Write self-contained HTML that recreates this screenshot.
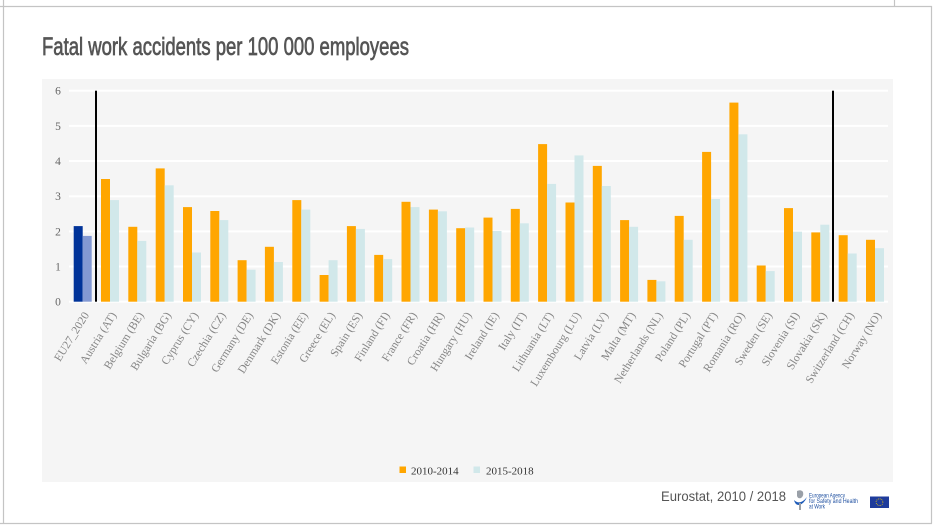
<!DOCTYPE html>
<html><head><meta charset="utf-8">
<style>
html,body{margin:0;padding:0;background:#fff;}
svg{display:block;}
</style></head>
<body>
<svg width="939" height="528" viewBox="0 0 939 528" xmlns="http://www.w3.org/2000/svg">
<rect x="0" y="0" width="939" height="528" fill="#fff"/>
<!-- frame -->
<line x1="0" y1="6.5" x2="932" y2="6.5" stroke="#c4c4c4" stroke-width="1.2"/>
<line x1="3.5" y1="0" x2="3.5" y2="523.5" stroke="#c4c4c4" stroke-width="1.2"/>
<line x1="931.5" y1="6" x2="931.5" y2="523.5" stroke="#c4c4c4" stroke-width="1.2"/>
<line x1="0" y1="523.5" x2="932" y2="523.5" stroke="#c4c4c4" stroke-width="1.2"/>
<line x1="894.5" y1="0" x2="894.5" y2="6" stroke="#c4c4c4" stroke-width="1.2"/>

<!-- title -->
<text x="42" y="55" font-family="Liberation Sans, sans-serif" font-size="25" fill="#555" stroke="#555" stroke-width="0.7" textLength="367" lengthAdjust="spacingAndGlyphs">Fatal work accidents per 100 000 employees</text>

<!-- panel -->
<rect x="42" y="79" width="851" height="403" fill="#f5f5f5"/>

<!-- gridlines -->
<g stroke="#ffffff" stroke-width="2">
<line x1="69" y1="90.7" x2="888" y2="90.7"/>
<line x1="69" y1="125.9" x2="888" y2="125.9"/>
<line x1="69" y1="161.0" x2="888" y2="161.0"/>
<line x1="69" y1="196.2" x2="888" y2="196.2"/>
<line x1="69" y1="231.4" x2="888" y2="231.4"/>
<line x1="69" y1="266.5" x2="888" y2="266.5"/>
<line x1="69" y1="301.7" x2="888" y2="301.7"/>
</g>

<!-- y labels -->
<g font-family="Liberation Serif, serif" font-size="11.5" fill="#666" text-anchor="middle">
<text x="58" y="94.7">6</text>
<text x="58" y="129.9">5</text>
<text x="58" y="165">4</text>
<text x="58" y="200.2">3</text>
<text x="58" y="235.4">2</text>
<text x="58" y="270.5">1</text>
<text x="58" y="305.7">0</text>
</g>

<!-- bars -->
<rect x="73.7" y="226.1" width="9" height="75.6" fill="#003399"/>
<rect x="82.7" y="235.9" width="9" height="65.8" fill="#8399d3"/>
<g fill="#ffa600">
<rect x="101.0" y="179.0" width="9" height="122.7"/>
<rect x="128.3" y="226.8" width="9" height="74.9"/>
<rect x="155.7" y="168.4" width="9" height="133.3"/>
<rect x="183.0" y="207.1" width="9" height="94.6"/>
<rect x="210.3" y="211.0" width="9" height="90.7"/>
<rect x="237.6" y="260.2" width="9" height="41.5"/>
<rect x="264.9" y="246.8" width="9" height="54.9"/>
<rect x="292.3" y="200.1" width="9" height="101.6"/>
<rect x="319.6" y="275.0" width="9" height="26.7"/>
<rect x="346.9" y="226.1" width="9" height="75.6"/>
<rect x="374.2" y="254.9" width="9" height="46.8"/>
<rect x="401.5" y="201.8" width="9" height="99.9"/>
<rect x="428.9" y="209.6" width="9" height="92.1"/>
<rect x="456.2" y="228.2" width="9" height="73.5"/>
<rect x="483.5" y="217.6" width="9" height="84.1"/>
<rect x="510.8" y="208.9" width="9" height="92.8"/>
<rect x="538.1" y="144.1" width="9" height="157.6"/>
<rect x="565.5" y="202.5" width="9" height="99.2"/>
<rect x="592.8" y="165.9" width="9" height="135.8"/>
<rect x="620.1" y="220.1" width="9" height="81.6"/>
<rect x="647.4" y="279.9" width="9" height="21.8"/>
<rect x="674.7" y="215.9" width="9" height="85.8"/>
<rect x="702.1" y="151.9" width="9" height="149.8"/>
<rect x="729.4" y="102.6" width="9" height="199.1"/>
<rect x="756.7" y="265.5" width="9" height="36.2"/>
<rect x="784.0" y="208.1" width="9" height="93.6"/>
<rect x="811.3" y="232.4" width="9" height="69.3"/>
<rect x="838.7" y="235.2" width="9" height="66.5"/>
<rect x="866.0" y="239.8" width="9" height="61.9"/>
</g>
<g fill="#d1e8ea">
<rect x="110.0" y="200.1" width="9" height="101.6"/>
<rect x="137.3" y="240.9" width="9" height="60.8"/>
<rect x="164.7" y="185.3" width="9" height="116.4"/>
<rect x="192.0" y="252.5" width="9" height="49.2"/>
<rect x="219.3" y="220.1" width="9" height="81.6"/>
<rect x="246.6" y="269.7" width="9" height="32.0"/>
<rect x="273.9" y="262.0" width="9" height="39.7"/>
<rect x="301.3" y="209.6" width="9" height="92.1"/>
<rect x="328.6" y="260.2" width="9" height="41.5"/>
<rect x="355.9" y="228.9" width="9" height="72.8"/>
<rect x="383.2" y="259.1" width="9" height="42.6"/>
<rect x="410.5" y="207.1" width="9" height="94.6"/>
<rect x="437.9" y="211.3" width="9" height="90.4"/>
<rect x="465.2" y="227.5" width="9" height="74.2"/>
<rect x="492.5" y="231.0" width="9" height="70.7"/>
<rect x="519.8" y="223.3" width="9" height="78.4"/>
<rect x="547.1" y="183.9" width="9" height="117.8"/>
<rect x="574.5" y="155.4" width="9" height="146.3"/>
<rect x="601.8" y="186.0" width="9" height="115.7"/>
<rect x="629.1" y="226.8" width="9" height="74.9"/>
<rect x="656.4" y="281.3" width="9" height="20.4"/>
<rect x="683.7" y="239.8" width="9" height="61.9"/>
<rect x="711.1" y="199.0" width="9" height="102.7"/>
<rect x="738.4" y="134.3" width="9" height="167.4"/>
<rect x="765.7" y="271.1" width="9" height="30.6"/>
<rect x="793.0" y="231.7" width="9" height="70.0"/>
<rect x="820.3" y="224.7" width="9" height="77.0"/>
<rect x="847.7" y="253.5" width="9" height="48.2"/>
<rect x="875.0" y="248.2" width="9" height="53.5"/>
</g>

<!-- separators -->
<rect x="95" y="90.7" width="2" height="211" fill="#000"/>
<rect x="832" y="90.7" width="2" height="211" fill="#000"/>

<!-- x labels -->
<g font-family="Liberation Serif, serif" font-size="11.5" fill="#858585" text-anchor="end">
<text transform="translate(89.5,315) rotate(-58)">EU27_2020</text>
<text transform="translate(116.8,315) rotate(-58)">Austria (AT)</text>
<text transform="translate(144.1,315) rotate(-58)">Belgium (BE)</text>
<text transform="translate(171.5,315) rotate(-58)">Bulgaria (BG)</text>
<text transform="translate(198.8,315) rotate(-58)">Cyprus (CY)</text>
<text transform="translate(226.1,315) rotate(-58)">Czechia (CZ)</text>
<text transform="translate(253.4,315) rotate(-58)">Germany (DE)</text>
<text transform="translate(280.7,315) rotate(-58)">Denmark (DK)</text>
<text transform="translate(308.1,315) rotate(-58)">Estonia (EE)</text>
<text transform="translate(335.4,315) rotate(-58)">Greece (EL)</text>
<text transform="translate(362.7,315) rotate(-58)">Spain (ES)</text>
<text transform="translate(390.0,315) rotate(-58)">Finland (FI)</text>
<text transform="translate(417.3,315) rotate(-58)">France (FR)</text>
<text transform="translate(444.7,315) rotate(-58)">Croatia (HR)</text>
<text transform="translate(472.0,315) rotate(-58)">Hungary (HU)</text>
<text transform="translate(499.3,315) rotate(-58)">Ireland (IE)</text>
<text transform="translate(526.6,315) rotate(-58)">Italy (IT)</text>
<text transform="translate(553.9,315) rotate(-58)">Lithuania (LT)</text>
<text transform="translate(581.3,315) rotate(-58)">Luxembourg (LU)</text>
<text transform="translate(608.6,315) rotate(-58)">Latvia (LV)</text>
<text transform="translate(635.9,315) rotate(-58)">Malta (MT)</text>
<text transform="translate(663.2,315) rotate(-58)">Netherlands (NL)</text>
<text transform="translate(690.5,315) rotate(-58)">Poland (PL)</text>
<text transform="translate(717.9,315) rotate(-58)">Portugal (PT)</text>
<text transform="translate(745.2,315) rotate(-58)">Romania (RO)</text>
<text transform="translate(772.5,315) rotate(-58)">Sweden (SE)</text>
<text transform="translate(799.8,315) rotate(-58)">Slovenia (SI)</text>
<text transform="translate(827.1,315) rotate(-58)">Slovakia (SK)</text>
<text transform="translate(854.5,315) rotate(-58)">Switzerland (CH)</text>
<text transform="translate(881.8,315) rotate(-58)">Norway (NO)</text>
</g>

<!-- legend -->
<rect x="399.5" y="466.5" width="6.5" height="6.5" fill="#ffa600"/>
<text x="411" y="474.5" font-family="Liberation Serif, serif" font-size="11" fill="#333">2010-2014</text>
<rect x="473.5" y="466.5" width="6.5" height="6.5" fill="#d1e8ea"/>
<text x="486" y="474.5" font-family="Liberation Serif, serif" font-size="11" fill="#333">2015-2018</text>

<!-- footer -->
<text x="661" y="501" font-family="Liberation Sans, sans-serif" font-size="14" fill="#555" textLength="125" lengthAdjust="spacingAndGlyphs">Eurostat, 2010 / 2018</text>

<!-- EU-OSHA logo -->
<g>
<path d="M797 491 q4 -2 6 1 q1 4 -2 6 q-3 1 -4 -2 z" fill="#9aa0a8"/>
<path d="M794 500 q6 6 13 -3 q-3 7 -8 8 q-4 0 -5 -5 z" fill="#1e5bb8"/>
<path d="M799 503 l0 7 l2 0 l0 -7 z" fill="#9aa0a8"/>
<g font-family="Liberation Sans, sans-serif" font-size="6" fill="#1e4fa0">
<text x="809" y="497.5" textLength="36" lengthAdjust="spacingAndGlyphs">European Agency</text>
<text x="809" y="503" textLength="49" lengthAdjust="spacingAndGlyphs">for Safety and Health</text>
<text x="809" y="508.5" textLength="16" lengthAdjust="spacingAndGlyphs">at Work</text>
</g>
</g>
<!-- EU flag -->
<rect x="870" y="496.5" width="19" height="11.5" fill="#1f3c9c"/>
<circle cx="879.5" cy="502.2" r="3.4" fill="none" stroke="#ffd500" stroke-width="0.8" stroke-dasharray="0.8 1"/>
</svg>
</body></html>
